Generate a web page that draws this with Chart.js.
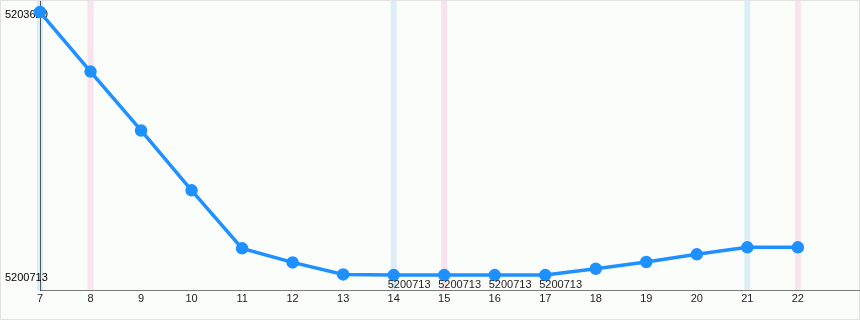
<!DOCTYPE html>
<html>
<head>
<meta charset="utf-8">
<script src="https://cdn.jsdelivr.net/npm/chart.js@4/dist/chart.umd.min.js"></script>
<style>
  body { margin: 0; background: #fff; }
  #wrap {
    width: 860px; height: 320px;
    background: #fbfdfb;
    box-shadow: inset 0 0 0 1px #e2e2e2;
  }
</style>
</head>
<body>
<div id="wrap"><canvas id="chart"></canvas></div>
<script>
// Data
const days = [7, 8, 9, 10, 11, 12, 13, 14, 15, 16, 17, 18, 19, 20, 21, 22];
const values = [5203620, 5202962, 5202311, 5201649, 5201008, 5200853, 5200720,
  5200713, 5200713, 5200713, 5200713, 5200783, 5200857, 5200942, 5201019, 5201019];
const yTicks = [5200713, 5203620];
const blueDays = [7, 14, 21];
const pinkDays = [8, 15, 22];

// weekend stripes, painted before the axes
const bandsPlugin = {
  id: "bands",
  beforeDraw(chart) {
    const ctx = chart.ctx;
    const x = chart.scales.x;
    const area = chart.chartArea;
    ctx.save();
    blueDays.forEach((d) => {
      ctx.fillStyle = "rgba(200,226,244,0.6)";
      ctx.fillRect(x.getPixelForValue(d) - 3, area.top, 6, area.bottom - area.top);
    });
    pinkDays.forEach((d) => {
      ctx.fillStyle = "rgba(248,210,228,0.6)";
      ctx.fillRect(x.getPixelForValue(d) - 3, area.top, 6, area.bottom - area.top);
    });
    ctx.restore();
  },
};

// value labels under the lowest points
const minLabelPlugin = {
  id: "minLabels",
  afterDatasetsDraw(chart) {
    const ctx = chart.ctx;
    const meta = chart.getDatasetMeta(0);
    const minVal = Math.min(...values);
    ctx.save();
    ctx.font = "11px 'Liberation Sans', Arial, sans-serif";
    ctx.fillStyle = "#222";
    ctx.textAlign = "left";
    ctx.textBaseline = "top";
    values.forEach((v, i) => {
      if (v === minVal) {
        const pt = meta.data[i];
        ctx.fillText(String(v), pt.x - 6, pt.y + 4);
      }
    });
    ctx.restore();
  },
};

new Chart(document.getElementById("chart"), {
  type: "line",
  data: {
    datasets: [
      {
        data: days.map((d, i) => ({ x: d, y: values[i] })),
        borderColor: "#1e90ff",
        backgroundColor: "#1e90ff",
        borderWidth: 3.5,
        pointRadius: 4.5,
        pointHoverRadius: 4.5,
        tension: 0,
        clip: false,
      },
    ],
  },
  options: {
    responsive: true,
    maintainAspectRatio: false,
    animation: false,
    layout: { autoPadding: false, padding: { left: 5, top: 1, right: 1, bottom: 12 } },
    plugins: { legend: { display: false }, tooltip: { enabled: false } },
    scales: {
      x: {
        type: "linear",
        min: 7,
        max: 23.21,
        afterBuildTicks: (s) => { s.ticks = days.map((d) => ({ value: d })); },
        afterFit: (s) => { s.paddingLeft = 0; s.paddingRight = 0; },
        grid: { display: false, drawTicks: false },
        border: { display: true, color: "#7a7a7a", width: 1 },
        ticks: {
          color: "#222",
          padding: 2,
          maxRotation: 0,
          autoSkip: false,
          font: { family: "'Liberation Sans', Arial, sans-serif", size: 11 },
        },
      },
      y: {
        min: 5200539,
        max: 5203742,
        afterBuildTicks: (s) => { s.ticks = yTicks.map((v) => ({ value: v })); },
        afterFit: (s) => { s.width = 35; s.paddingTop = 0; s.paddingBottom = 0; },
        grid: { display: false, drawTicks: false },
        border: { display: true, color: "#4a5866", width: 1 },
        ticks: {
          color: "#000",
          mirror: true,
          padding: -35,
          labelOffset: 3,
          font: { family: "'Liberation Sans', Arial, sans-serif", size: 11 },
          callback: (v) => String(v),
        },
      },
    },
  },
  plugins: [bandsPlugin, minLabelPlugin],
});
</script>
</body>
</html>
